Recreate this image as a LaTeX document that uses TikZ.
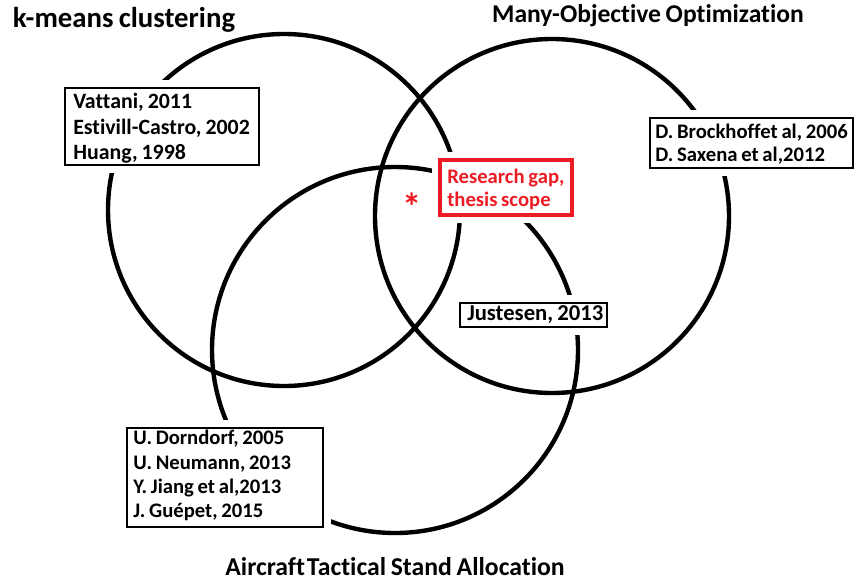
\documentclass[tikz,border=0pt]{standalone}
\usepackage{fontspec}
\setmainfont{Carlito}[Ligatures=NoCommon,WordSpace={0.8,0,0}]
\definecolor{gapred}{RGB}{237,28,36}
\definecolor{ink}{RGB}{0,0,0}
\begin{document}
\frenchspacing
\begin{tikzpicture}[x=0.75pt,y=-0.75pt,
  setring/.style={circle,draw=ink,line width=3.3pt,inner sep=0pt,minimum size=#1},
  settitle/.style={font=\bfseries\fontsize{#1}{#1}\selectfont,text=ink,inner sep=0pt},
  halo/.style={preaction={draw=white,line width=12pt}},
  refbox/.style={draw=ink,line width=2.2pt,fill=white,halo,inner sep=0pt},
  gapbox/.style={draw=gapred,line width=3.6pt,fill=white,halo,inner sep=0pt},
  reftext/.style={anchor=west,inner sep=0pt,align=left,text=ink}]
\useasboundingbox (0,0) rectangle (855,581);

% the three sets
\node[setring=264pt]    (kmeans)   at (284,210) {};
\node[setring=265.5pt]  (manyobj)  at (552,216) {};
\node[setring=274.5pt]  (stand)    at (395,350) {};

% set titles
\node[settitle=21.6] (tkmeans)  at (124,20)  {k-means clustering};
\node[settitle=19.2] (tmanyobj) at (648,16)  {Many-Objective Optimization};
\node[settitle=19.3] (tstand)   at (395,567) {Aircraft\kern1.5pt Tactical Stand Allocation};

% reference boxes
\node[refbox,minimum width=145.5pt,minimum height=57.75pt]  (boxkm)   at (162,126.5) {};
\node[refbox,minimum width=152.25pt,minimum height=37.5pt]  (boxmo)   at (751.5,143) {};
\node[refbox,minimum width=110.25pt,minimum height=18pt]    (boxmost) at (533.5,315) {};
\node[refbox,minimum width=147pt,minimum height=74.25pt]    (boxst)   at (225,477.5) {};
\node[gapbox,minimum width=99pt,minimum height=41.25pt]     (boxgap)  at (506,187.5) {};

% reference lists
\node[reftext,font=\bfseries\fontsize{16.4}{19.2}\selectfont] (refkm) at (73,128.5)
  {Vattani, 2011\\Estivill-Castro, 2002\\Huang, 1998};
\node[reftext,font=\bfseries\fontsize{15.5}{17.25}\selectfont] (refmo) at (655,144)
  {D. Brockhoffet al, 2006\\D. Saxena et al,2012};
\node[reftext,font=\bfseries\fontsize{17}{18}\selectfont] (refmost) at (467,315)
  {Justesen, 2013};
\node[reftext,font=\bfseries\fontsize{15.5}{18.1}\selectfont] (refst) at (133,475.5)
  {U. Dorndorf, 2005\\U. Neumann, 2013\\Y. Jiang et al,2013\\J. Guépet, 2015};

% research gap in the common region
\node[reftext,text=gapred,font=\bfseries\fontsize{15.5}{17.25}\selectfont] (gap) at (447,189)
  {Research gap,\\thesis scope};
\node[font=\bfseries\fontsize{29}{29}\selectfont,text=gapred,inner sep=0pt] (star) at (412,207) {*};
\end{tikzpicture}
\end{document}
